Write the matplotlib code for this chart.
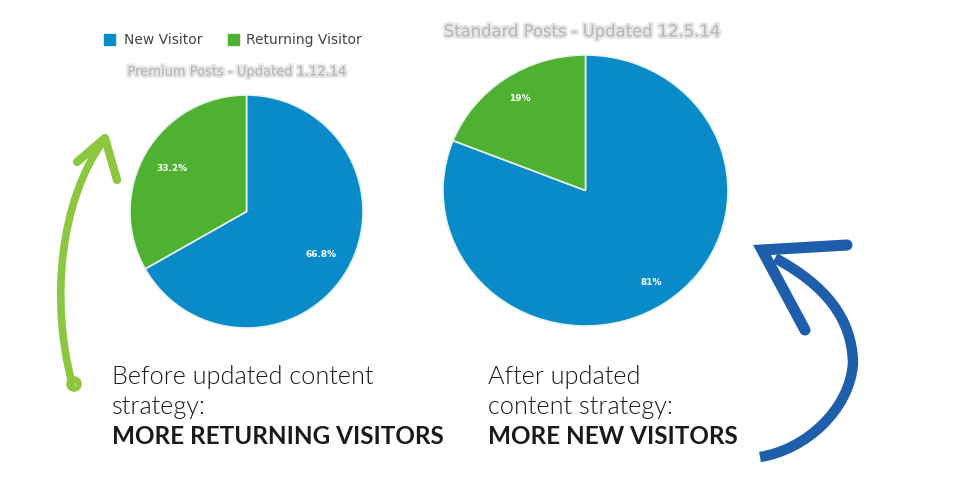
import numpy as np
import matplotlib.pyplot as plt
from matplotlib.path import Path
from matplotlib.patches import PathPatch, Rectangle
import matplotlib.patheffects as pe

W, H = 979, 497

labels = ['New Visitor', 'Returning Visitor']
before_vals = [66.8, 33.2]
after_vals = [81, 19]
before_title = 'Premium Posts - Updated 1.12.14'
after_title = 'Standard Posts - Updated 12.5.14'
before_caption = ['Before updated content', 'strategy:']
after_caption = ['After updated', 'content strategy:']
before_bold = 'MORE RETURNING VISITORS'
after_bold = 'MORE NEW VISITORS'

colors = ['#0A8BC9', '#4FB131']
green_arrow = '#8DC63F'
blue_arrow = '#1E5EAB'

fig = plt.figure(figsize=(W / 100, H / 100), dpi=100)
fig.patch.set_facecolor('white')


def px_axes(x0, y0, x1, y1):
    # axes from pixel box (top-left origin)
    return fig.add_axes([x0 / W, 1 - y1 / H, (x1 - x0) / W, (y1 - y0) / H])


def draw_pie(ax, vals, pctdist, fmt):
    wedges, _, autotexts = ax.pie(vals, colors=colors, startangle=90, counterclock=False,
                                  autopct=fmt, pctdistance=pctdist,
                                  wedgeprops=dict(edgecolor='#e8f4ea', linewidth=1.2),
                                  textprops=dict(color='white', fontsize=6.5, fontweight='bold'))
    ax.set_aspect('auto')
    ax.set_xlim(-1, 1)
    ax.set_ylim(-1, 1)
    ax.axis('off')
    return wedges


ax1 = px_axes(130, 95, 363, 328)
wedges = draw_pie(ax1, before_vals, 0.74, '%.1f%%')
ax2 = px_axes(443, 55, 728, 326)
draw_pie(ax2, after_vals, 0.82, '%d%%')

# overlay in pixel coordinates for text and hand drawn arrows
ov = fig.add_axes([0, 0, 1, 1], zorder=5)
ov.set_xlim(0, W)
ov.set_ylim(H, 0)
ov.axis('off')
ov.patch.set_alpha(0)

# legend
ov.add_patch(Rectangle((104, 34), 11, 11, color=colors[0]))
ov.text(124, 40, labels[0], fontsize=10, color='#444444', va='center', family='DejaVu Sans')
ov.add_patch(Rectangle((228, 34), 11, 11, color=colors[1]))
ov.text(246, 40, labels[1], fontsize=10, color='#444444', va='center', family='DejaVu Sans')

# blurred titles
blur = [pe.Stroke(linewidth=3.5, foreground='#dcdcdc', alpha=0.7), pe.Normal()]
ov.text(237, 72, before_title, fontsize=9.4, color='#b4b4b4', ha='center', va='center',
        path_effects=blur)
ov.text(582, 32, after_title, fontsize=11.8, color='#b8b8b8', ha='center', va='center',
        path_effects=blur)

# captions
fnt = 'Lato'
cap = dict(family=fnt, color='#1a1a1a', va='center')
ov.text(112, 377, before_caption[0], fontsize=18.2, fontweight=300, **cap)
ov.text(112, 407, before_caption[1], fontsize=18.2, fontweight=300, **cap)
ov.text(112, 437, before_bold, fontsize=17.5, fontweight='bold', **cap)
ov.text(488, 377, after_caption[0], fontsize=18.2, fontweight=300, **cap)
ov.text(488, 407, after_caption[1], fontsize=18.2, fontweight=300, **cap)
ov.text(488, 437, after_bold, fontsize=17.5, fontweight='bold', **cap)

# green arrow
C4 = Path.CURVE4
shaft = Path([(72, 383), (50, 300), (60, 200), (104, 140)], [Path.MOVETO, C4, C4, C4])
ov.add_patch(PathPatch(shaft, fill=False, edgecolor=green_arrow, lw=5.5, capstyle='round'))
ov.plot([77, 105, 117], [162, 138, 180], color=green_arrow, lw=6, solid_capstyle='round',
        solid_joinstyle='round')
ov.add_patch(plt.Circle((74, 384), 5, fill=False, edgecolor=green_arrow, lw=4))

# blue arrow
bshaft = Path([(760, 457), (805, 450), (850, 410), (853, 363),
               (852, 318), (825, 285), (775, 258)],
              [Path.MOVETO, C4, C4, C4, C4, C4, C4])
ov.add_patch(PathPatch(bshaft, fill=False, edgecolor=blue_arrow, lw=7.5, capstyle='butt'))
ov.plot([847, 762, 805], [245, 250, 330], color=blue_arrow, lw=8, solid_capstyle='round',
        solid_joinstyle='miter')

fig.savefig('out.png', dpi=100)
